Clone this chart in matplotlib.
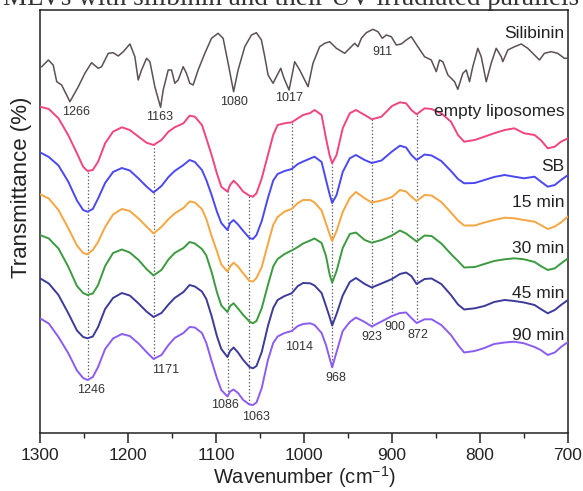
import numpy as np
import matplotlib
matplotlib.use("Agg")
import matplotlib.pyplot as plt
from matplotlib.ticker import MultipleLocator

plt.rcParams['font.family'] = ['Liberation Sans', 'DejaVu Sans']
plt.rcParams['mathtext.fontset'] = 'custom'
plt.rcParams['mathtext.rm'] = 'Liberation Sans'
plt.rcParams['mathtext.it'] = 'Liberation Sans:italic'

# ---------------- data (wavenumber in cm-1, transmittance in arbitrary stacked units) -------------
WN = [1300, 1290, 1279, 1268, 1258, 1251, 1246, 1240, 1234, 1226,
      1217, 1207, 1198, 1188, 1179, 1171, 1162, 1154, 1147, 1137,
      1130, 1124, 1116, 1111, 1105, 1099, 1094, 1087, 1084, 1080,
      1075, 1069, 1062, 1058, 1054, 1048, 1041, 1035, 1030, 1022,
      1014, 1007, 1001, 993, 988, 980, 975, 971, 968, 963,
      956, 948, 941, 931, 923, 912, 900, 891, 884, 878,
      872, 863, 855, 844, 833, 825, 818, 806, 795, 784,
      772, 761, 750, 738, 731, 723, 715, 708, 700]

T_EMPTY = [326.3, 324, 314.7, 298, 279.7, 266.3, 262, 263, 271.3, 289.7,
           301.3, 305.7, 303, 296.3, 290.3, 288, 293, 301.3, 305.7, 309.7,
           317.3, 316.3, 308, 294.7, 278, 259.7, 246.3, 241.3, 248, 252.3,
           248, 241.3, 237.3, 236.3, 239.7, 254.7, 278, 298, 308, 309.7,
           310.7, 314.7, 318, 320, 323, 318, 294.7, 278, 269.7, 278,
           304.7, 319.7, 323, 318, 313.7, 316.3, 327, 330.7, 329.7, 323,
           318.7, 324.7, 324, 319.7, 311.3, 298, 291.3, 293, 296.3, 299.7,
           303, 304.7, 299.7, 298, 293, 284.7, 286.3, 291.3, 294.7]

T_SB = [280.7, 276, 267.5, 251.5, 232.5, 223, 221.3, 224, 234.5, 250,
        261, 265, 262.5, 254.5, 246.5, 240.5, 247, 256, 262, 268,
        273, 271, 263, 253, 238, 221.5, 210, 203, 210, 213,
        208.5, 202, 195, 194, 198, 212, 235, 252.5, 259, 262,
        264, 269, 271.5, 274.5, 276.3, 271, 253, 239, 230, 238,
        261, 274.7, 278, 273, 270, 272.5, 281.5, 287.3, 285.5, 278,
        273, 278.5, 277.5, 272, 262, 254, 249.7, 250, 253, 256,
        258, 256.3, 254.7, 256.3, 251.5, 246.3, 248, 253, 258]

T_15 = [238.7, 234.5, 223, 205, 187.5, 180, 178.7, 183, 191, 206,
        218.5, 224, 222, 214.5, 206.5, 199.5, 206, 214, 219.5, 225,
        231.5, 230.5, 224, 214, 197, 182, 168.5, 161.5, 166.5, 170.3,
        166.5, 159.5, 152, 151.5, 155, 166, 189, 208, 216, 221.5,
        224, 230, 233, 233, 230.5, 222.5, 209.5, 199, 192, 202,
        221, 235, 241, 234.7, 230.5, 232.5, 236, 243, 241.5, 236.3,
        232, 238, 237.5, 231, 220.5, 212.5, 207.5, 207.5, 210.5, 213,
        215.3, 214.7, 213, 211.3, 208, 204, 206.5, 210.5, 216.5]

T_30 = [198, 194.5, 184.5, 166.5, 147, 140, 138, 139.5, 148, 167,
        180, 183.5, 180.5, 173, 164, 157.5, 163, 173.5, 180, 185,
        191, 189.5, 184, 177.5, 161, 141, 127.5, 121, 127, 129.7,
        124.5, 118, 111.5, 109.7, 112, 125, 148, 166.5, 174, 179,
        182.5, 186, 189.5, 192.5, 194.5, 190, 177, 159, 150.3, 162,
        185, 199, 200.5, 193, 190.3, 193, 197.5, 202.5, 199.5, 195.5,
        191.5, 197.5, 197, 189.5, 179, 172, 165.5, 166, 169, 172,
        173.7, 174.7, 173.7, 171, 167, 163, 164.7, 169.5, 174.7]

T_45 = [154.7, 149.5, 138, 120, 102.5, 96, 94.7, 96.5, 106, 124,
        135, 140, 137.5, 129.5, 121.5, 116, 120, 128.5, 135, 141,
        148, 146.5, 141.5, 134, 117, 97, 84, 76, 82, 85.5,
        80.5, 73, 66, 64.7, 67, 81, 107, 125, 133, 137,
        139.7, 147, 150, 149.7, 147.5, 140, 127, 116.3, 107.5, 119,
        137.5, 151, 155, 149, 145.5, 149.5, 154, 159, 160.5, 157,
        149, 154, 154.5, 149, 138, 128.5, 123.5, 124.7, 127, 131,
        133, 132, 130.5, 128, 124, 119.7, 123, 128, 133]

T_90 = [114.7, 109.5, 96, 80, 62.5, 55, 53, 56, 66, 84,
        94.5, 99, 97, 89.5, 81, 74, 78, 88, 95, 100,
        106, 105.5, 100, 90, 72, 55, 43, 36.5, 41.5, 43.5,
        40, 33, 28.5, 28, 30.5, 45, 73, 90, 96.5, 100,
        102, 107, 109, 109.7, 108, 100, 88, 75, 65.7, 81,
        102, 111, 115.5, 111, 106.5, 111.5, 117, 120, 120.5, 115,
        110, 113.7, 113.7, 108, 98, 88, 80.5, 82, 85, 89,
        90.5, 91.3, 89.7, 86, 83, 78, 80.5, 86, 91]

SILIBININ = [(1298, 366.3), (1290.5, 373), (1285, 368), (1281, 351.3), (1275.4, 348),
             (1266, 331.3), (1256.5, 346.3), (1249, 359.7), (1241.4, 370.3), (1233.8, 364.7),
             (1230, 366.3), (1222.4, 379.7), (1216.8, 380.3), (1211.1, 377), (1205.4, 381.3),
             (1197.8, 389), (1192.2, 376.3), (1188.4, 353), (1184.6, 363), (1178.9, 374.7),
             (1175.1, 371.3), (1169.5, 346.3), (1163, 325.7), (1160, 343), (1154.3, 363),
             (1150.5, 363), (1146.8, 349.7), (1143, 353), (1137.3, 366.3), (1133.6, 359.7),
             (1129.8, 349.7), (1126, 348), (1120.3, 363), (1112.7, 379.7), (1105.1, 394.7),
             (1097.6, 399.7), (1091.9, 394.7), (1086.2, 369.7), (1080, 341.3), (1074.9, 363),
             (1067.3, 386.3), (1059.7, 398), (1054.1, 400.3), (1048.4, 393), (1044.6, 376.3),
             (1040.8, 358), (1035.2, 349.7), (1031.4, 356.3), (1026.4, 364.7), (1022.7, 354.7),
             (1017, 343), (1014.3, 354.7), (1010.6, 371.3), (1004.9, 363), (995.4, 346.3),
             (989.8, 369.7), (982.2, 386.3), (976.5, 389.7), (970.8, 391.3), (963.2, 384.7),
             (953.8, 379.7), (948.1, 384.7), (942.4, 389.7), (938.7, 386.3), (934.8, 394.7),
             (929.2, 400.3), (921.7, 403.7), (916, 401.3), (911, 394.7), (906.5, 398),
             (900.8, 396.3), (895.1, 388), (889.4, 389), (883.8, 393), (878.1, 396.3),
             (870.6, 386.3), (863, 376.3), (855.4, 373), (849.7, 361.3), (846, 373),
             (842.2, 371.3), (836.5, 358), (832.7, 354.7), (828.9, 351.3), (825.2, 343.7),
             (819.5, 359.7), (815.6, 363), (811.9, 351.3), (808.2, 366.3), (802.5, 384.7),
             (798.6, 376.3), (792.9, 351.3), (787.3, 369.7), (781.6, 384.7), (775.9, 376.3),
             (774.1, 371.3), (768.4, 383), (760.8, 386.3), (753.2, 389), (745.7, 384.7),
             (738.1, 378), (732.4, 373), (726.8, 379.7), (719.2, 381.3), (711.7, 379.7),
             (704.1, 374.7), (700.3, 374.7)]

SERIES_NAMES = ["empty liposomes", "SB", "15 min", "30 min", "45 min", "90 min"]
SERIES = [T_EMPTY, T_SB, T_15, T_30, T_45, T_90]
COLORS = ["#f0457f", "#4a48f2", "#f5a640", "#3c9a40", "#3c3a9a", "#8a5cf2"]
SIL_COLOR = "#5c5054"

# marked bands: (wavenumber, top series index)
BANDS = [(1246, 0), (1171, 0), (1086, 0), (1063, 0), (1014, 0), (968, 0), (923, 0), (900, 2), (872, 0)]
SIL_BANDS = ["1266", "1163", "1080", "1017", "911"]
LIPO_BANDS = ["1246", "1171", "1086", "1063", "1014", "968", "923", "900", "872"]
XTICKS = [1300, 1200, 1100, 1000, 900, 800, 700]

# ---------------- figure -------------
W, H = 583, 491
fig = plt.figure(figsize=(W / 100, H / 100), dpi=100)
L, R, T, B = 40, 568, 10, 433
ax = fig.add_axes([L / W, 1 - B / H, (R - L) / W, (B - T) / H])
ax.set_xlim(1300, 700)
ax.set_ylim(0, 423)

wn = np.array(WN, dtype=float)

# dotted guide lines
for band, top in BANDS:
    y_top = np.interp(band, wn[::-1], np.array(SERIES[top], float)[::-1])
    y_bot = np.interp(band, wn[::-1], np.array(T_90, float)[::-1])
    ax.plot([band, band], [y_bot, y_top], ls=(0, (1.2, 1.6)), color="#6a6a6a", lw=0.9, zorder=1)

sx = [p[0] for p in SILIBININ]
sy = [p[1] for p in SILIBININ]
ax.plot(sx, sy, color=SIL_COLOR, lw=1.1, zorder=3)

for vals, c in zip(SERIES, COLORS):
    ax.plot(wn, vals, color=c, lw=1.4, zorder=3)

# series labels (right aligned)
label_y = [321.3, 266.3, 230.7, 184.7, 139.7, 97]
for name, y in zip(SERIES_NAMES, label_y):
    ax.text(704, y, name, ha="right", va="center", fontsize=12.5, color="#222222", zorder=4)
ax.text(704, 399.7, "Silibinin", ha="right", va="center", fontsize=12.5, color="#222222", zorder=4)

# band labels
sil_pos = [(1259, 321.3), (1163.8, 316.3), (1079.8, 331.3), (1017.4, 334.7), (910.7, 381.3)]
for txt, (x, y) in zip(SIL_BANDS, sil_pos):
    ax.text(x, y, txt, ha="center", va="center", fontsize=9, color="#333333", zorder=4)
lipo_pos = [(1242, 43), (1157, 63), (1090, 28), (1054.8, 16.3), (1006, 86.3),
            (964, 54.7), (922.6, 95.7), (897, 106.3), (870.9, 98)]
for txt, (x, y) in zip(LIPO_BANDS, lipo_pos):
    ax.text(x, y, txt, ha="center", va="center", fontsize=9, color="#333333", zorder=4)

# axes styling
ax.set_yticks([])
ax.set_xticks(XTICKS)
ax.set_xticklabels([str(t) for t in XTICKS])
ax.xaxis.set_minor_locator(MultipleLocator(50))
ax.tick_params(axis="x", which="major", direction="out", length=7, width=1.1,
               labelsize=12.5, pad=3.5, colors="#222222")
ax.tick_params(axis="x", which="minor", direction="out", length=3.5, width=1.0, colors="#222222")
for s in ax.spines.values():
    s.set_linewidth(1.1)
    s.set_color("#222222")

fig.text(22 / W, 1 - 187 / H, "Transmittance (%)", rotation=90, ha="center", va="center",
         fontsize=16, color="#222222")
fig.text(304 / W, 1 - 477 / H, "Wavenumber (cm$^{-1}$)", ha="center", va="center",
         fontsize=14.5, color="#222222")
# caption fragment cut off at the top edge of the reference image
fig.text(0.5, 1 - 5 / H, "MLVs with silibinin and their UV irradiated parallels",
         ha="center", va="baseline", fontsize=19.5, color="#333333",
         family=["Liberation Serif", "DejaVu Serif"])

fig.savefig("out.png", dpi=100)
